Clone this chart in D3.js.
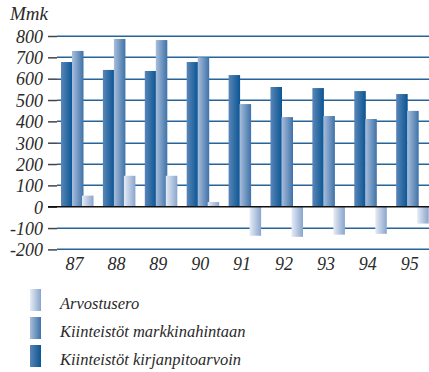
<!DOCTYPE html>
<html>
<head>
<meta charset="utf-8">
<script src="https://cdn.jsdelivr.net/npm/d3@7/dist/d3.min.js"></script>
<style>
  html, body { margin: 0; padding: 0; background: #fff; }
  svg { display: block; }
</style>
</head>
<body>
<svg id="chart" width="429" height="372"></svg>
<script>
// Years on the x axis
const years = ["87", "88", "89", "90", "91", "92", "93", "94", "95"];
// Real estate at book value (Mmk)
const bookValue = [678, 641, 636, 678, 617, 561, 556, 542, 528];
// Real estate at market value (Mmk)
const marketValue = [730, 786, 781, 700, 481, 420, 425, 411, 449];
// Valuation difference (Mmk)
const valuationDiff = [52, 145, 145, 22, -136, -141, -131, -127, -79];
// Y axis ticks
const yTicks = [800, 700, 600, 500, 400, 300, 200, 100, 0, -100, -200];

const seriesNames = ["Kiinteistöt kirjanpitoarvoin", "Kiinteistöt markkinahintaan", "Arvostusero"];
const seriesValues = [bookValue, marketValue, valuationDiff];
const gradients = [
  { id: "gDark",  from: "#5a86b8", to: "#0a5593" },
  { id: "gMid",   from: "#a9bedc", to: "#3e72a8" },
  { id: "gLight", from: "#e6ecf5", to: "#89a5cc" }
];
const SERIF = "'Liberation Serif', 'Times New Roman', serif";
const INK = "#2a2a2a";

const svg = d3.select("#chart");
const defs = svg.append("defs");
gradients.forEach(g => {
  const lg = defs.append("linearGradient").attr("id", g.id)
    .attr("x1", "0%").attr("x2", "100%").attr("y1", "0%").attr("y2", "0%");
  lg.append("stop").attr("offset", "0%").attr("stop-color", g.from);
  lg.append("stop").attr("offset", "100%").attr("stop-color", g.to);
});

const plotLeft = 57, plotRight = 429;
const y = d3.scaleLinear().domain([-200, 800]).range([249.4, 36]);
const x = d3.scaleBand().domain(years).range([61, 429.2]).paddingInner(0.212).paddingOuter(0);
const xs = d3.scaleBand().domain([0, 1, 2]).range([0, x.bandwidth()]);

// Gridlines: two-tone horizontal rules
const grid = svg.append("g");
yTicks.filter(t => t !== 0).forEach(t => {
  const yy = Math.round(y(t));
  grid.append("line").attr("x1", plotLeft).attr("x2", plotRight)
    .attr("y1", yy - 0.5).attr("y2", yy - 0.5)
    .attr("stroke", "#8db1d1").attr("stroke-width", 1);
  grid.append("line").attr("x1", plotLeft).attr("x2", plotRight)
    .attr("y1", yy + 0.5).attr("y2", yy + 0.5)
    .attr("stroke", "#2c6395").attr("stroke-width", 1);
});

// Y axis ticks and labels (plain hyphen for negatives)
const yAxis = d3.axisLeft(y).tickValues(yTicks).tickSize(9).tickPadding(5)
  .tickFormat(d => String(d));
const ya = svg.append("g").attr("transform", `translate(${plotLeft},0)`).call(yAxis)
  .attr("font-family", SERIF);
ya.select(".domain").remove();
ya.selectAll(".tick line").attr("stroke", "#444").attr("stroke-width", 1.5);
ya.selectAll(".tick text").attr("font-size", 18).attr("fill", INK)
  .attr("font-family", SERIF).attr("font-style", "italic")
  .attr("dy", "0.35em");

// Bars
const groups = svg.append("g").selectAll("g").data(years).join("g")
  .attr("transform", d => `translate(${x(d)},0)`);
seriesValues.forEach((vals, s) => {
  groups.append("rect")
    .attr("x", () => xs(s) - (s === 2 ? 1 : 0))
    .attr("width", xs.bandwidth() + 0.5)
    .attr("y", (d, i) => y(Math.max(0, vals[i])))
    .attr("height", (d, i) => Math.abs(y(vals[i]) - y(0)))
    .attr("fill", `url(#${gradients[s].id})`);
});

// Zero line
svg.append("line").attr("x1", 48).attr("x2", plotRight)
  .attr("y1", y(0)).attr("y2", y(0)).attr("stroke", "#111").attr("stroke-width", 1.5);

// X labels
svg.append("g").selectAll("text").data(years).join("text")
  .attr("x", d => x(d) + x.bandwidth() / 2 - 3)
  .attr("y", 270)
  .attr("text-anchor", "middle")
  .attr("font-family", SERIF).attr("font-style", "italic").attr("fill", INK)
  .attr("font-size", 18)
  .text(d => d);

// Unit label
svg.append("text").attr("x", 10).attr("y", 20).attr("font-size", 19)
  .attr("font-family", SERIF).attr("font-style", "italic").attr("fill", INK)
  .text("Mmk");

// Legend
const legendOrder = [2, 1, 0];
const lg = svg.append("g").selectAll("g").data(legendOrder).join("g")
  .attr("transform", (d, i) => `translate(30, ${289 + i * 28})`);
lg.append("rect").attr("width", 11).attr("height", 22)
  .attr("fill", d => `url(#${gradients[d].id})`);
lg.append("text").attr("x", 30).attr("y", 20).attr("font-size", 16.5)
  .attr("font-family", SERIF).attr("font-style", "italic").attr("fill", INK)
  .text(d => seriesNames[d]);
</script>
</body>
</html>
